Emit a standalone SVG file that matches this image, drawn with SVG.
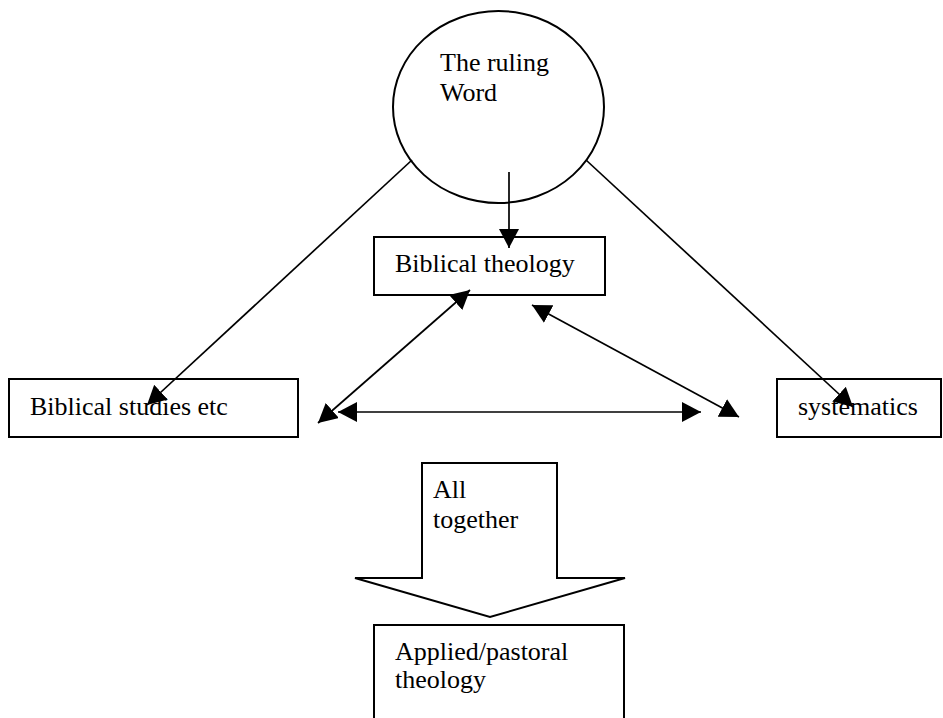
<svg xmlns="http://www.w3.org/2000/svg" width="943" height="718" viewBox="0 0 943 718">
<style>
.shape{fill:#fff;stroke:#000;stroke-width:2}
.lbl{font-family:"Liberation Serif","Times New Roman",serif;font-size:26px;fill:#000}
.con{fill:none;stroke:#000;stroke-width:1.7}
</style>
<defs>
<marker id="ah" markerUnits="userSpaceOnUse" markerWidth="20" markerHeight="20" refX="19" refY="10" orient="auto-start-reverse" viewBox="0 0 20 20">
<path d="M0,0 L19,10 L0,20 z" fill="#000"/>
</marker>
</defs>
<rect width="943" height="718" fill="#fff"/>
<g id="node-word">
<ellipse class="shape" cx="498.5" cy="107" rx="105.5" ry="96"/>
<text class="lbl" x="440" y="71">The ruling</text>
<text class="lbl" x="440" y="101">Word</text>
</g>
<g id="node-biblical-theology">
<rect class="shape" x="374" y="237" width="231" height="58"/>
<text class="lbl" x="395" y="272">Biblical theology</text>
</g>
<g id="node-biblical-studies">
<rect class="shape" x="9" y="379" width="289" height="58"/>
<text class="lbl" x="30" y="415">Biblical studies etc</text>
</g>
<g id="node-systematics">
<rect class="shape" x="777" y="379" width="164" height="58"/>
<text class="lbl" x="798" y="415">systematics</text>
</g>
<g id="node-all-together">
<path class="shape" d="M422,463 L557,463 L557,578 L625,578 L490,617 L355,578 L422,578 Z"/>
<text class="lbl" x="433" y="498">All</text>
<text class="lbl" x="433" y="528">together</text>
</g>
<g id="node-applied">
<rect class="shape" x="374" y="625" width="250" height="100"/>
<text class="lbl" x="395" y="660">Applied/pastoral</text>
<text class="lbl" x="395" y="688">theology</text>
</g>
<g id="connectors">
<line class="con" x1="509" y1="172" x2="509" y2="248" marker-end="url(#ah)"/>
<line class="con" x1="412" y1="160" x2="147" y2="405" marker-end="url(#ah)"/>
<line class="con" x1="586" y1="160" x2="853" y2="407" marker-end="url(#ah)"/>
<line class="con" x1="470" y1="290" x2="318" y2="423" marker-start="url(#ah)" marker-end="url(#ah)"/>
<line class="con" x1="532" y1="305" x2="739" y2="417" marker-start="url(#ah)" marker-end="url(#ah)"/>
<line class="con" x1="338" y1="412" x2="701" y2="412" marker-start="url(#ah)" marker-end="url(#ah)"/>
</g>
</svg>
